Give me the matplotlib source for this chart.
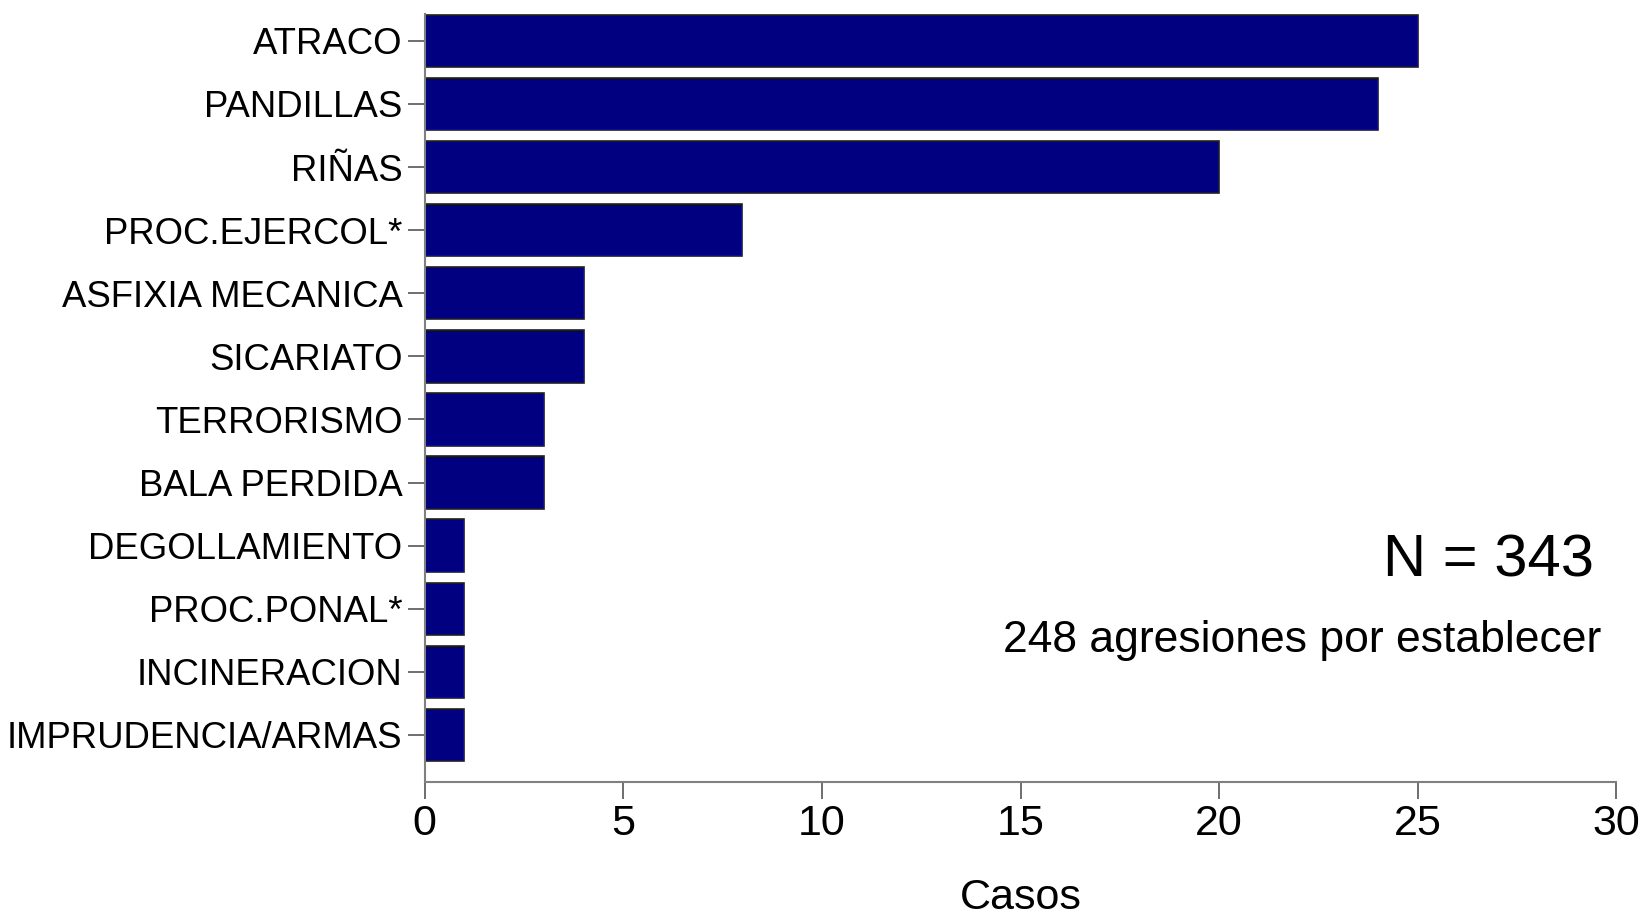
import numpy as np
import matplotlib.pyplot as plt

categorias = ["ATRACO", "PANDILLAS", "RIÑAS", "PROC.EJERCOL*", "ASFIXIA MECANICA",
              "SICARIATO", "TERRORISMO", "BALA PERDIDA", "DEGOLLAMIENTO",
              "PROC.PONAL*", "INCINERACION", "IMPRUDENCIA/ARMAS"]
casos = [25, 24, 20, 8, 4, 4, 3, 3, 1, 1, 1, 1]
xticks = [0, 5, 10, 15, 20, 25, 30]

fuente = ["Liberation Sans", "DejaVu Sans"]

fig = plt.figure(figsize=(16.46, 9.17), dpi=100)
ax = fig.add_axes([0.258, 0.147, 0.724, 0.838])

y = np.arange(len(categorias))
ax.barh(y, casos, height=0.83, color="#000080", edgecolor="#202020", linewidth=1.2)

ax.set_ylim(11.75, -0.43)
ax.set_xlim(0, 30)
ax.set_yticks(y)
ax.set_yticklabels(categorias, family=fuente, fontsize=26.3)
ax.set_xticks(xticks)
ax.set_xticklabels([str(v) for v in xticks], family=fuente, fontsize=31)

for s in ["top", "right"]:
    ax.spines[s].set_visible(False)
for s in ["left", "bottom"]:
    ax.spines[s].set_color("#808080")
    ax.spines[s].set_linewidth(1.5)
ax.tick_params(axis="both", direction="out", length=12, width=1.2, color="#555555")
ax.tick_params(axis="y", pad=4)
ax.tick_params(axis="x", pad=4)

ax.set_xlabel("Casos", family=fuente, fontsize=31, labelpad=24)

ax.text(0.981, 0.288, "N = 343", transform=ax.transAxes, ha="right", va="center",
        family=fuente, fontsize=43)
ax.text(0.987, 0.184, "248 agresiones por establecer", transform=ax.transAxes,
        ha="right", va="center", family=fuente, fontsize=32)

fig.savefig("out.png", dpi=100)
